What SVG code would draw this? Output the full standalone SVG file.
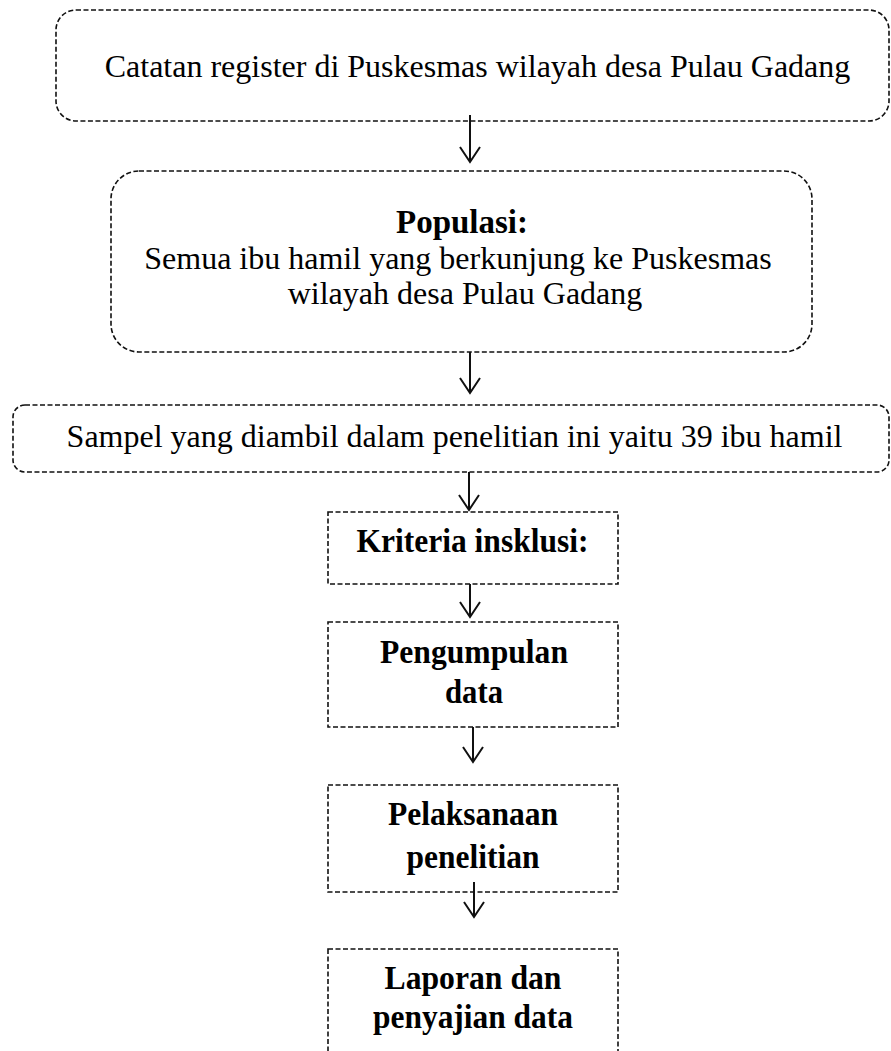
<svg xmlns="http://www.w3.org/2000/svg" width="891" height="1051" viewBox="0 0 891 1051">
<defs>
<style>
.box{fill:none;stroke:#111;stroke-width:1.6;stroke-dasharray:5 2.5}
.t{font-family:"Liberation Serif","Times New Roman",serif;font-size:32px;fill:#000;text-anchor:middle}
.b{font-weight:bold;font-size:33px}
.conn{stroke:#111;stroke-width:2;fill:none;marker-end:url(#ah)}
</style>
<marker id="ah" markerUnits="userSpaceOnUse" markerWidth="20" markerHeight="24" viewBox="-1 -1 18 24" refX="15" refY="10" orient="auto" overflow="visible">
<path d="M0,0 L15,10 L0,20" fill="none" stroke="#111" stroke-width="2"/>
</marker>
</defs>
<rect width="891" height="1051" fill="#fff"/>
<g id="connectors">
<line class="conn" x1="470" y1="115" x2="470" y2="162"/>
<line class="conn" x1="470" y1="352" x2="470" y2="393"/>
<line class="conn" x1="469" y1="472" x2="469" y2="510"/>
<line class="conn" x1="470" y1="584" x2="470" y2="617"/>
<line class="conn" x1="473" y1="727" x2="473" y2="762"/>
<line class="conn" x1="474" y1="882" x2="474" y2="917"/>
</g>
<g id="n1">
<rect class="box" x="56" y="10" width="833" height="111" rx="20"/>
<text class="t" x="477.5" y="77">Catatan register di Puskesmas wilayah desa Pulau Gadang</text>
</g>
<g id="n2">
<rect class="box" x="111" y="171" width="701" height="181" rx="28"/>
<text class="t b" x="462" y="233">Populasi:</text>
<text class="t" x="458" y="269" font-size="31">Semua ibu hamil yang berkunjung ke Puskesmas</text>
<text class="t" x="465" y="304" font-size="31">wilayah desa Pulau Gadang</text>
</g>
<g id="n3">
<rect class="box" x="13" y="405" width="876" height="67" rx="12"/>
<text class="t" x="454.5" y="447">Sampel yang diambil dalam penelitian ini yaitu 39 ibu hamil</text>
</g>
<g id="n4">
<rect class="box" x="328" y="512" width="290" height="72"/>
<text class="t b" x="472.5" y="552" textLength="232" lengthAdjust="spacingAndGlyphs">Kriteria insklusi:</text>
</g>
<g id="n5">
<rect class="box" x="328" y="622" width="290" height="105"/>
<text class="t b" x="474" y="663" textLength="188" lengthAdjust="spacingAndGlyphs">Pengumpulan</text>
<text class="t b" x="474" y="703" textLength="58" lengthAdjust="spacingAndGlyphs">data</text>
</g>
<g id="n6">
<rect class="box" x="328" y="785" width="290" height="107"/>
<text class="t b" x="473" y="825" textLength="170" lengthAdjust="spacingAndGlyphs">Pelaksanaan</text>
<text class="t b" x="473" y="868" textLength="133" lengthAdjust="spacingAndGlyphs">penelitian</text>
</g>
<g id="n7">
<rect class="box" x="328" y="949" width="290" height="140"/>
<text class="t b" x="473" y="989" textLength="177" lengthAdjust="spacingAndGlyphs">Laporan dan</text>
<text class="t b" x="473" y="1028" textLength="200" lengthAdjust="spacingAndGlyphs">penyajian data</text>
</g>
</svg>
